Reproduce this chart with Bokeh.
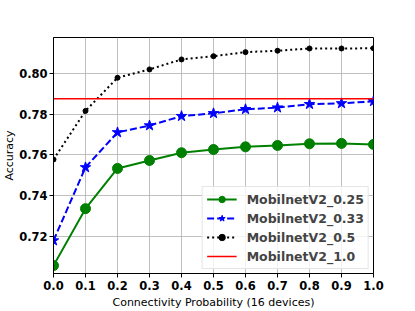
from bokeh.plotting import figure
from bokeh.models import Range1d, FixedTicker, Legend, LegendItem
from bokeh.embed import file_html
from bokeh.resources import INLINE

conn_prob = [0.0, 0.1, 0.2, 0.3, 0.4, 0.5, 0.6, 0.7, 0.8, 0.9, 1.0]
mbv2_025 = [0.7056, 0.7336, 0.7534, 0.7573, 0.7611, 0.7627, 0.7640, 0.7647, 0.7655, 0.7657, 0.7652]
mbv2_033 = [0.7179, 0.7539, 0.7711, 0.7745, 0.7791, 0.7805, 0.7825, 0.7833, 0.7850, 0.7854, 0.7864]
mbv2_05 = [0.7578, 0.7817, 0.7980, 0.8021, 0.8070, 0.8086, 0.8106, 0.8113, 0.8124, 0.8124, 0.8125]
mbv2_10 = 0.7877
x_ticks = [0.0, 0.1, 0.2, 0.3, 0.4, 0.5, 0.6, 0.7, 0.8, 0.9, 1.0]
y_ticks = [0.72, 0.74, 0.76, 0.78, 0.80]

FONT = "DejaVu Sans"

p = figure(width=415, height=311, output_backend="svg", toolbar_location=None,
           x_range=Range1d(0.0, 1.0), y_range=Range1d(0.7017, 0.8178),
           min_border_left=52, min_border_right=42, min_border_top=37, min_border_bottom=37)

p.background_fill_color = "white"
p.border_fill_color = "white"
p.outline_line_color = "black"
p.outline_line_width = 1

for ax in (p.xaxis[0], p.yaxis[0]):
    ax.major_label_text_font = FONT
    ax.major_label_text_font_style = "bold"
    ax.major_label_text_font_size = "11.5px"
    ax.major_label_text_color = "black"
    ax.axis_label_text_font = FONT
    ax.axis_label_text_font_style = "normal"
    ax.axis_label_text_font_size = "11px"
    ax.axis_label_text_color = "black"
    ax.major_tick_out = 4
    ax.major_tick_in = 0
    ax.minor_tick_out = 0
    ax.minor_tick_in = 0
    ax.axis_line_color = "black"
    ax.major_tick_line_color = "black"

p.xaxis.major_label_standoff = 3
p.yaxis.major_label_standoff = 2
p.xaxis.ticker = FixedTicker(ticks=x_ticks)
p.yaxis.ticker = FixedTicker(ticks=y_ticks)
p.xaxis.major_label_overrides = {t: f"{t:.1f}" for t in x_ticks}
p.yaxis.major_label_overrides = {t: f"{t:.2f}" for t in y_ticks}
p.xaxis.axis_label = "Connectivity Probability (16 devices)"
p.yaxis.axis_label = "Accuracy"
p.xaxis.axis_label_standoff = 3
p.yaxis.axis_label_standoff = 0

p.grid.grid_line_color = "#b0b0b0"
p.grid.grid_line_width = 0.8

l1 = p.line(conn_prob, mbv2_025, line_color="green", line_width=2)
s1 = p.scatter(conn_prob, mbv2_025, marker="circle", size=10, fill_color="green", line_color="green")
l2 = p.line(conn_prob, mbv2_033, line_color="blue", line_width=2, line_dash="7 3")
s2 = p.scatter(conn_prob, mbv2_033, marker="star", size=11, fill_color="blue", line_color="blue")
l3 = p.line(conn_prob, mbv2_05, line_color="black", line_width=2, line_dash="2 3")
s3 = p.scatter(conn_prob, mbv2_05, marker="circle", size=5, fill_color="black", line_color="black")
l4 = p.line([conn_prob[0], conn_prob[-1]], [mbv2_10, mbv2_10], line_color="red", line_width=1.5)

legend = Legend(items=[
    LegendItem(label="MobilnetV2_0.25", renderers=[l1, s1]),
    LegendItem(label="MobilnetV2_0.33", renderers=[l2, s2]),
    LegendItem(label="MobilnetV2_0.5", renderers=[l3, s3]),
    LegendItem(label="MobilnetV2_1.0", renderers=[l4]),
], location="bottom_right")
legend.label_text_font = FONT
legend.label_text_font_style = "bold"
legend.label_text_font_size = "12.5px"
legend.glyph_width = 30
legend.glyph_height = 16
legend.label_height = 16
legend.spacing = 3
legend.padding = 4
legend.margin = 4
legend.label_standoff = 10
legend.border_line_color = "#cccccc"
legend.border_line_width = 1
legend.background_fill_color = "white"
legend.background_fill_alpha = 0.8
p.add_layout(legend, "center")

open("out.html", "w").write(file_html(p, INLINE))
